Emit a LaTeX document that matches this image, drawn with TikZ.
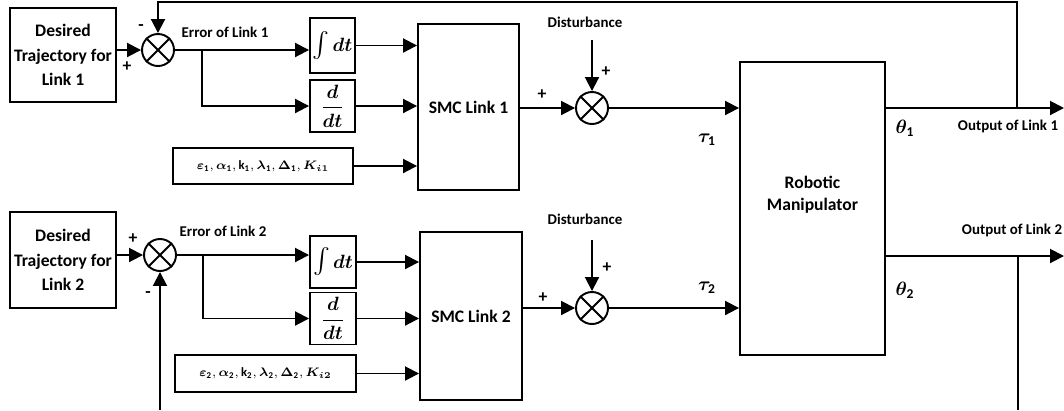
\documentclass[tikz,border=0pt]{standalone}
\usepackage{fontspec}
\usepackage{amsmath,bm}
\setmainfont{Carlito}
\usetikzlibrary{arrows.meta}

\tikzset{
    blk/.style={draw, line width=1.1pt, inner sep=0pt, align=center,
        font=\bfseries\fontsize{10}{14}\selectfont},
    sumnode/.style={draw, circle, line width=1.1pt, minimum size=0.64cm, inner sep=0pt},
    lbl/.style={font=\bfseries\fontsize{8.5}{10}\selectfont, inner sep=1pt},
    sgn/.style={font=\bfseries\fontsize{10}{10}\selectfont, inner sep=0pt},
    mth/.style={font=\fontsize{11}{12}\selectfont, inner sep=0pt},
    sig/.style={line width=1.1pt},
    flow/.style={sig, -{Triangle[length=0.28cm,width=0.28cm]}},
}
\newcommand{\parlist}[1]{$\boldsymbol{\varepsilon}_{\mathbf{#1}}\mathbf{,}\,\boldsymbol{\alpha}_{\mathbf{#1}}\mathbf{,}\,\mathbf{k}_{\mathbf{#1}}\mathbf{,}\,\boldsymbol{\lambda}_{\mathbf{#1}}\mathbf{,}\,\boldsymbol{\Delta}_{\mathbf{#1}}\mathbf{,}\,\boldsymbol{K_{i#1}}$}
\newcommand{\intdt}{{\fontsize{14}{14}\selectfont$\int$}\,$\boldsymbol{dt}$}

\begin{document}
\begin{tikzpicture}[x=0.02cm, y=-0.02cm]
    \useasboundingbox (0,0) rectangle (1064,410);

    % link 1
    \node[blk, minimum width=2.12cm, minimum height=1.88cm] (des1) at (63,55) {Desired\\Trajectory for\\Link 1};
    \node[sumnode] (sum1) at (158,50) {};
    \node[blk, mth, minimum width=0.9cm, minimum height=1.1cm] (int1) at (332.5,45.5) {\intdt};
    \node[blk, mth, minimum width=0.9cm, minimum height=1.04cm] (der1) at (332.5,106) {$\boldsymbol{\dfrac{d}{dt}}$};
    \node[blk, minimum width=3.6cm, minimum height=0.72cm, font=\fontsize{7.2}{8}\selectfont] (par1) at (263,166) {\parlist{1}};
    \node[blk, minimum width=2.02cm, minimum height=3.32cm] (smc1) at (468.5,107) {SMC Link 1};
    \node[sumnode] (dsum1) at (592,108) {};

    % link 2
    \node[blk, minimum width=2.12cm, minimum height=1.92cm] (des2) at (63,260) {Desired\\Trajectory for\\Link 2};
    \node[sumnode] (sum2) at (160,255) {};
    \node[blk, mth, minimum width=0.92cm, minimum height=1.04cm] (int2) at (333,262) {\intdt};
    \node[blk, mth, minimum width=0.92cm, minimum height=1.04cm] (der2) at (333,318.5) {$\boldsymbol{\dfrac{d}{dt}}$};
    \node[blk, minimum width=3.62cm, minimum height=0.74cm, font=\fontsize{7.2}{8}\selectfont] (par2) at (265.5,373.5) {\parlist{2}};
    \node[blk, minimum width=2.04cm, minimum height=3.36cm] (smc2) at (471,316) {SMC Link 2};
    \node[sumnode] (dsum2) at (592,308) {};

    % plant
    \node[blk, minimum width=2.9cm, minimum height=5.86cm] (rob) at (812.5,208.5) {};
    \node[align=center, font=\bfseries\fontsize{10}{12.5}\selectfont] (robtxt) at (812.5,195) {Robotic\\Manipulator};

    \foreach \s in {sum1,sum2,dsum1,dsum2}
        \draw[sig] (\s.north east) -- (\s.south west) (\s.north west) -- (\s.south east);

    \coordinate (br1) at (202,50);
    \coordinate (br2) at (203,255);
    \coordinate (dist1) at (592,40);
    \coordinate (dist2) at (592,240);
    \coordinate (fb1) at (1017,108);
    \coordinate (top1) at (1017,2);
    \coordinate (out1) at (1064,108);
    \coordinate (fb2) at (1018,256);
    \coordinate (bot2) at (1018,410);
    \coordinate (out2) at (1064,256);

    % signals
    \draw[flow] (des1.east |- sum1.west) -- (sum1.west);
    \draw[flow] (sum1.east) -- (sum1.east -| int1.west);
    \draw[flow] (br1) |- (der1.west);
    \draw[flow] (int1.east) -- (int1.east -| smc1.west);
    \draw[flow] (der1.east) -- (der1.east -| smc1.west);
    \draw[flow] (par1.east) -- (par1.east -| smc1.west);
    \draw[flow] (smc1.east |- dsum1.west) -- (dsum1.west);
    \draw[flow] (dist1) -- (dsum1.north);
    \draw[flow] (dsum1.east) -- (dsum1.east -| rob.west);
    \draw[flow] (rob.east |- out1) -- (out1);
    \draw[flow] (fb1) -- (top1) -| (sum1.north);

    \draw[flow] (des2.east |- sum2.west) -- (sum2.west);
    \draw[flow] (sum2.east) -- (sum2.east -| int2.west);
    \draw[flow] (br2) |- (der2.west);
    \draw[flow] (int2.east) -- (int2.east -| smc2.west);
    \draw[flow] (der2.east) -- (der2.east -| smc2.west);
    \draw[flow] (par2.east) -- (par2.east -| smc2.west);
    \draw[flow] (smc2.east |- dsum2.west) -- (dsum2.west);
    \draw[flow] (dist2) -- (dsum2.north);
    \draw[flow] (dsum2.east) -- (dsum2.east -| rob.west);
    \draw[flow] (rob.east |- out2) -- (out2);
    \draw[sig] (fb2) -- (bot2);
    \draw[flow] (sum2.south |- bot2) -- (sum2.south);

    % labels
    \node[sgn] (m1) at (141,28) {-};
    \node[sgn] (p1) at (127,67) {+};
    \node[lbl] (e1) at (225,32) {Error of Link 1};
    \node[lbl] (d1) at (585,22) {Disturbance};
    \node[sgn] (pd1) at (606,72) {+};
    \node[sgn] (ps1) at (542,95) {+};
    \node[mth] (t1) at (707,140) {$\boldsymbol{\tau}_{\mathbf{1}}$};
    \node[mth] (th1) at (905,128) {$\boldsymbol{\theta}_{\mathbf{1}}$};
    \node[lbl] (o1) at (1008,126) {Output of Link 1};

    \node[sgn] (p2) at (133,239) {+};
    \node[sgn] (m2) at (148,295) {-};
    \node[lbl] (e2) at (223,231) {Error of Link 2};
    \node[lbl] (d2) at (585,219) {Disturbance};
    \node[sgn] (pd2) at (607,268) {+};
    \node[sgn] (ps2) at (543,298) {+};
    \node[mth] (t2) at (707,288) {$\boldsymbol{\tau}_{\mathbf{2}}$};
    \node[mth] (th2) at (905,290) {$\boldsymbol{\theta}_{\mathbf{2}}$};
    \node[lbl] (o2) at (1012,230) {Output of Link 2};
\end{tikzpicture}
\end{document}
